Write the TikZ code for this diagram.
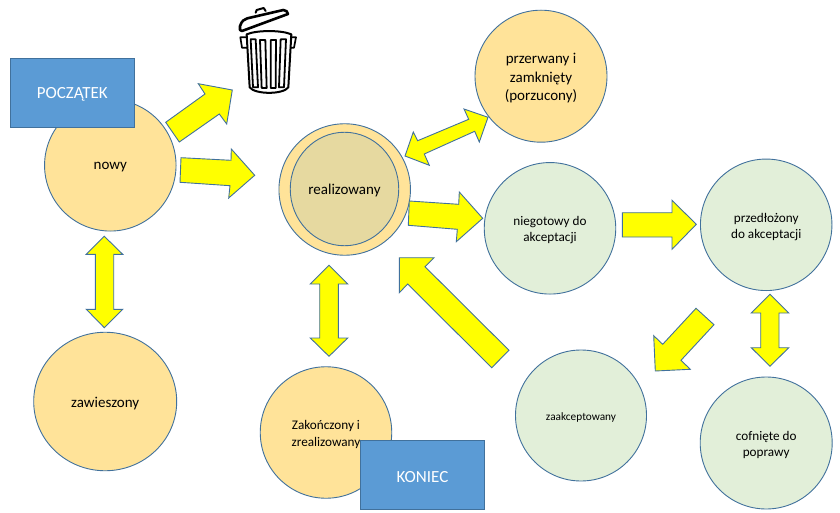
\documentclass[tikz,border=0pt]{standalone}
\usepackage{fontspec}
\setmainfont{Carlito}
\usetikzlibrary{shapes.geometric}
\definecolor{edgeblue}{HTML}{41719C}
\definecolor{boxblue}{HTML}{5B9BD5}
\definecolor{sand}{HTML}{FFE399}
\definecolor{sandinner}{HTML}{E6D9A0}
\definecolor{mint}{HTML}{E2EFD9}
\definecolor{arrowyellow}{HTML}{FFFF00}
\tikzset{
  stateshape/.style={circle,draw=edgeblue,line width=0.9pt,inner sep=0pt},
  sandstate/.style={stateshape,fill=sand},
  mintstate/.style={stateshape,fill=mint},
  markerbox/.style={rectangle,draw=edgeblue,line width=0.9pt,fill=boxblue,inner sep=0pt,
    minimum width=124.5pt,minimum height=69.5pt,
    label={[text=white,yshift=-2pt,inner sep=0pt,font=\fontsize{17}{20}\selectfont]center:#1}},
  blockarrow/.style={draw=edgeblue,line width=0.9pt,fill=arrowyellow,line join=miter},
  binstroke/.style={draw=black,line width=2pt,line join=round,line cap=round},
  texta/.style={label={[align=center,text=black,yshift=-2pt,inner sep=0pt,font=\fontsize{15}{18.5}\selectfont]center:#1}},
  textb/.style={label={[align=center,text=black,yshift=-2pt,inner sep=0pt,font=\fontsize{13.2}{16.2}\selectfont]center:#1}},
  textc/.style={label={[align=center,text=black,yshift=-2pt,inner sep=0pt,font=\fontsize{11.3}{14}\selectfont]center:#1}}
}
\begin{document}
\begin{tikzpicture}[x=1pt,y=-1pt]
\useasboundingbox (0,0) rectangle (840,513);
% states
\node[sandstate,minimum size=131.5pt,texta={nowy}] (nowy) at (110.3,165.3) {};
\node[ellipse,draw=edgeblue,line width=0.9pt,fill=sand,inner sep=0pt,minimum width=143pt,minimum height=138.5pt,texta={zawieszony}] (zawieszony) at (105.2,401.5) {};
\node[sandstate,minimum size=131.5pt] (realouter) at (344.7,189.5) {};
\node[ellipse,draw=edgeblue,line width=0.9pt,fill=sandinner,minimum width=108.5pt,minimum height=113.5pt,inner sep=0pt,texta={realizowany}] (realizowany) at (344.5,189) {};
\node[sandstate,minimum size=132pt,texta={przerwany i\\zamknięty\\(porzucony)}] (przerwany) at (541,76.2) {};
\node[mintstate,minimum size=131.5pt,textb={niegotowy do\\akceptacji}] (niegotowy) at (550,228.3) {};
\node[mintstate,minimum size=131.5pt,textb={przedłożony\\do akceptacji}] (przedlozony) at (766.2,224.8) {};
\node[mintstate,minimum size=131pt,textc={zaakceptowany}] (zaakceptowany) at (581,415.5) {};
\node[mintstate,minimum size=132pt,textb={cofnięte do\\poprawy}] (cofniete) at (766.2,443) {};
\node[sandstate,minimum size=131.5pt,textb={Zakończony i\\zrealizowany}] (zakonczony) at (326,432.5) {};
% marker boxes
\node[markerbox={POCZĄTEK}] (poczatek) at (72.3,92.8) {};
\node[markerbox={KONIEC}] (koniec) at (422.5,474.8) {};
% block arrows
\draw[blockarrow] (165.7,122.3) -- (179.3,142) -- (219.3,114) -- (226.7,124) -- (232.3,90) -- (198.3,83.7) -- (205,94) -- cycle;
\draw[blockarrow] (181,157.7) -- (231,160.3) -- (231.3,149) -- (254.7,175.3) -- (228.7,198) -- (230,185.7) -- (180,182.3) -- cycle;
\draw[blockarrow] (405,156) -- (413.3,132) -- (417.7,140.7) -- (468.7,119.3) -- (464,109) -- (488,117.3) -- (479.3,142) -- (474.7,131.3) -- (424.3,154) -- (429.3,165.3) -- cycle;
\draw[blockarrow] (409.3,201) -- (458.7,204.3) -- (459.3,192) -- (482.7,218.3) -- (456.3,241.7) -- (457.3,229.3) -- (408.3,225.3) -- cycle;
\draw[blockarrow] (622.3,212.7) -- (672,212.7) -- (672,200.3) -- (696.3,224.3) -- (672,249.3) -- (672,237) -- (622.3,237) -- cycle;
\draw[blockarrow] (434,257.7) -- (399.3,257.7) -- (399.3,292.7) -- (407.7,284) -- (491.7,367.7) -- (509,350.3) -- (425,266.7) -- cycle;
\draw[blockarrow] (696,308.3) -- (714,324.7) -- (681,360.3) -- (690.3,369.3) -- (655.3,371) -- (653.7,335.7) -- (662.7,344.3) -- cycle;
\draw[blockarrow] (770,294.3) -- (788.7,313) -- (779,313) -- (779,347.7) -- (788.7,347.7) -- (770,366.3) -- (751.3,347.7) -- (760.7,347.7) -- (760.7,313) -- (751.3,313) -- cycle;
\draw[blockarrow] (104.3,236.3) -- (122.7,254.3) -- (113.7,254.3) -- (113.7,309.3) -- (122.7,309.3) -- (104.3,327.7) -- (86.3,309.3) -- (95.3,309.3) -- (95.3,254.3) -- (86.3,254.3) -- cycle;
\draw[blockarrow] (329,265.3) -- (347.7,284) -- (338.3,284) -- (338.3,338) -- (347.7,338) -- (329,356.3) -- (310.3,338) -- (319.7,338) -- (319.7,284) -- (310.3,284) -- cycle;
% bin
\begin{scope}[shift={(220,0)},x=0.3333pt,y=-0.3333pt]
  \draw[binstroke,line width=2.6pt] (60,90) -- (60,78) .. controls (66,62) and (72,58) .. (82,55) -- (190,30) .. controls (198,30) and (204,36) .. (204,42) -- (66,93) -- cycle;
  \draw[binstroke,line width=2pt] (107,38) -- (110,30) -- (131,24) -- (137,33);
  \draw[binstroke] (80,103) .. controls (110,90) and (185,90) .. (214,103) -- (205,262) .. controls (190,284) and (105,284) .. (89,262) -- cycle;
  \draw[binstroke,line width=1.7pt] (79,112) -- (61,112) -- (66,143) -- (82,143);
  \draw[binstroke,line width=1.7pt] (215,112) -- (228,112) -- (222,143) -- (212,143);
  \draw[binstroke,line width=1.8pt] (92,118) -- (107,118) -- (114,262) -- (99,262) -- cycle;
  \draw[binstroke,line width=1.8pt] (120,120) -- (136,120) -- (140,264) -- (125,264) -- cycle;
  \draw[binstroke,line width=1.8pt] (152,120) -- (168,120) -- (167,264) -- (152,264) -- cycle;
  \draw[binstroke,line width=1.8pt] (182,118) -- (198,118) -- (192,262) -- (177,262) -- cycle;
\end{scope}
\end{tikzpicture}
\end{document}
